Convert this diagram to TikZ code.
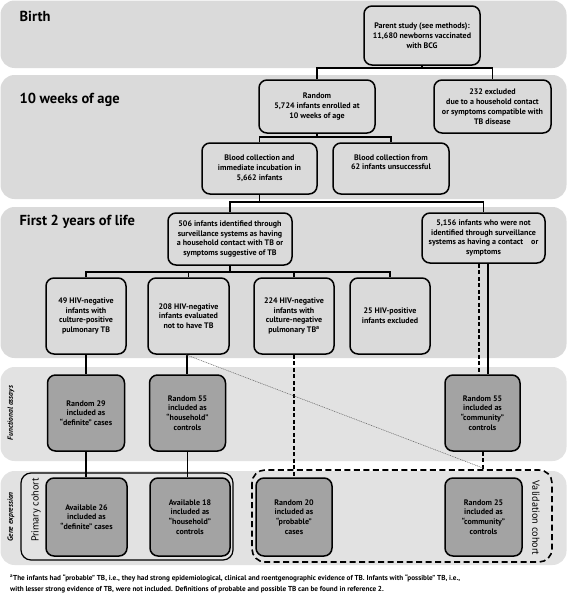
\documentclass[tikz,border=0pt]{standalone}
\usepackage{fontspec}
\setmainfont{PT Sans}
\usetikzlibrary{calc}
\definecolor{bandA}{gray}{0.855}
\definecolor{bandB}{gray}{0.885}
\definecolor{boxgray}{gray}{0.64}
\tikzset{
  band/.style={fill=#1, draw=none, rounded corners=14pt},
  box/.style 2 args={draw, line width=1.5pt, rounded corners=8pt, align=center,
    inner sep=0pt, minimum width=#1pt, minimum height=#2pt,
    font=\bfseries\fontsize{8}{9.8}\selectfont},
  gbox/.style 2 args={box={#1}{#2}, fill=boxgray},
  conn/.style={line width=1.1pt},
  dconn/.style={line width=1.1pt, dash pattern=on 4pt off 2.5pt},
  dotconn/.style={line width=0.5pt, gray!75!black, dash pattern=on 1pt off 0.8pt},
  hdr/.style={anchor=west, font=\bfseries\fontsize{14.5}{14.5}\selectfont},
  side/.style={font=\bfseries\itshape\fontsize{7.5}{8}\selectfont},
  cohort/.style={font=\fontsize{10.2}{10.2}\selectfont},
}
\begin{document}
\begin{tikzpicture}[x=1pt,y=-1pt]
\useasboundingbox (0,0) rectangle (567,597);
% bands
\fill[band=bandA] (0.5,0.5) rectangle (566.5,68);
\fill[band=bandA] (0.5,75) rectangle (566.5,199);
\fill[band=bandA] (0.5,207) rectangle (566.5,358);
\fill[band=bandB] (0.5,367) rectangle (566.5,461);
\fill[band=bandB] (0.5,471) rectangle (566.5,565);
% headers
\node[hdr] (hBirth) at (16,16) {Birth};
\node[hdr] (hTen) at (16,100) {10 weeks of age};
\node[hdr] (hFirst) at (16,222) {First 2 years of life};
\node[side, rotate=90] (hFun) at (11,413) {Functional assays};
\node[side, rotate=90] (hGene) at (11,517) {Gene expression};
% cohort frames
\draw[line width=1.2pt, rounded corners=10pt] (21,473) rectangle (233,560);
\node[cohort, rotate=90] (pc) at (36,510) {Primary cohort};
\draw[line width=1.6pt, rounded corners=13pt, dash pattern=on 6pt off 3.5pt] (252,470) rectangle (552,562);
\node[cohort, rotate=-90] (vc) at (536,518) {Validation cohort};
% top boxes
\node[box={116}{59}] (parent) at (422,35.5) {Parent study (see methods):\\11,680 newborns vaccinated\\with BCG};
\node[box={116}{53}] (random) at (317,106.5) {Random\\5,724 infants enrolled at\\10 weeks of age};
\node[box={117}{53}] (ex232) at (492.5,106.5) {232 excluded\\due to a household contact\\or symptoms compatible with\\TB disease};
\node[box={115}{51}] (blood1) at (259.5,168.5) {Blood collection and\\immediate incubation in\\5,662 infants};
\node[box={116}{51}] (blood2) at (391,168.5) {Blood collection from\\62 infants unsuccessful\\\strut};
\node[box={124}{52}] (c506) at (230,239) {506 infants identified through\\surveillance systems as having\\a household contact with TB or\\symptoms suggestive of TB};
\node[box={123}{50}] (c5156) at (483.5,238) {5,156 infants who were not\\identified through surveillance\\systems as having a contact\quad or\\symptoms};
\node[box={80}{76}] (b49) at (86,316) {49 HIV-negative\\infants with\\culture-positive\\pulmonary TB};
\node[box={81}{76}] (b208) at (188.5,316) {208 HIV-negative\\infants evaluated\\not to have TB};
\node[box={80}{76}] (b224) at (294,316) {224 HIV-negative\\infants with\\culture-negative\\pulmonary TB\textsuperscript{a}};
\node[box={80}{76}] (b25) at (390,316) {25 HIV-positive\\infants excluded};
% functional assay boxes
\node[gbox={77}{76}] (f29) at (86,413) {Random 29\\included as\\“definite” cases};
\node[gbox={76}{76}] (f55h) at (187.5,413) {Random 55\\included as\\“household”\\controls};
\node[gbox={75}{76}] (f55c) at (482.5,413) {Random 55\\included as\\“community”\\controls};
% gene expression boxes
\node[gbox={81}{78}] (g26) at (86.5,517) {Available 26\\included as\\“definite” cases};
\node[gbox={80}{78}] (g18) at (190,517) {Available 18\\included as\\“household”\\controls};
\node[gbox={76}{78}] (g20) at (294,517) {Random 20\\included as\\“probable”\\cases};
\node[gbox={77}{78}] (g25) at (483.5,517) {Random 25\\included as\\“community”\\controls};
% connectors
\coordinate (j1) at (422,68);
\draw[conn] (parent.south) -- (j1);
\draw[conn] (random.north) |- (j1) -| (ex232.north);
\coordinate (j2) at (317,137);
\draw[conn] (random.south) -- (j2);
\draw[conn] (blood1.north) |- (j2) -| (blood2.north);
\coordinate (j3) at (259.5,202);
\draw[conn] (blood1.south) -- (j3);
\draw[conn] (c506.north) |- (j3) -| (c5156.north);
\coordinate (j4) at (230,272);
\draw[conn] (c506.south) -- (j4);
\draw[conn] (b49.north) |- (j4) -| (b25.north);
\draw[conn] (b208.north) -- (b208.north |- j4);
\draw[conn] (b224.north) -- (b224.north |- j4);
\draw[conn] (b49.south) -- (f29.north);
\draw[conn] ([xshift=-1.5pt]b208.south) -- ([xshift=-0.5pt]f55h.north);
\draw[conn] (f29.south) -- (g26.north -| f29.south);
\draw[conn] (f55h.south) -- (g18.north -| f55h.south);
\draw[dconn] (b224.south) -- (g20.north);
\draw[dconn] ([xshift=-4.5pt]c5156.south) -- ([xshift=-3.5pt]f55c.north);
\draw[conn] ([xshift=4.5pt]c5156.south) -- ([xshift=5.5pt]f55c.north);
\coordinate (vtop) at (483,470);
\draw[dconn] (f55c.south -| vtop) -- (vtop);
\draw[dotconn] ([xshift=-2.5pt]b208.south) -- (483,468);
% footnote
\node[anchor=west, align=left, inner sep=0pt, font=\bfseries\fontsize{7.2}{11}\selectfont] (fn) at (10,584)
 {\textsuperscript{a}The infants had “probable” TB, i.e., they had strong epidemiological, clinical and roentgenographic evidence of TB. Infants with “possible” TB, i.e.,\\
 with lesser strong evidence of TB, were not included. Definitions of probable and possible TB can be found in reference 2.};
\end{tikzpicture}
\end{document}
